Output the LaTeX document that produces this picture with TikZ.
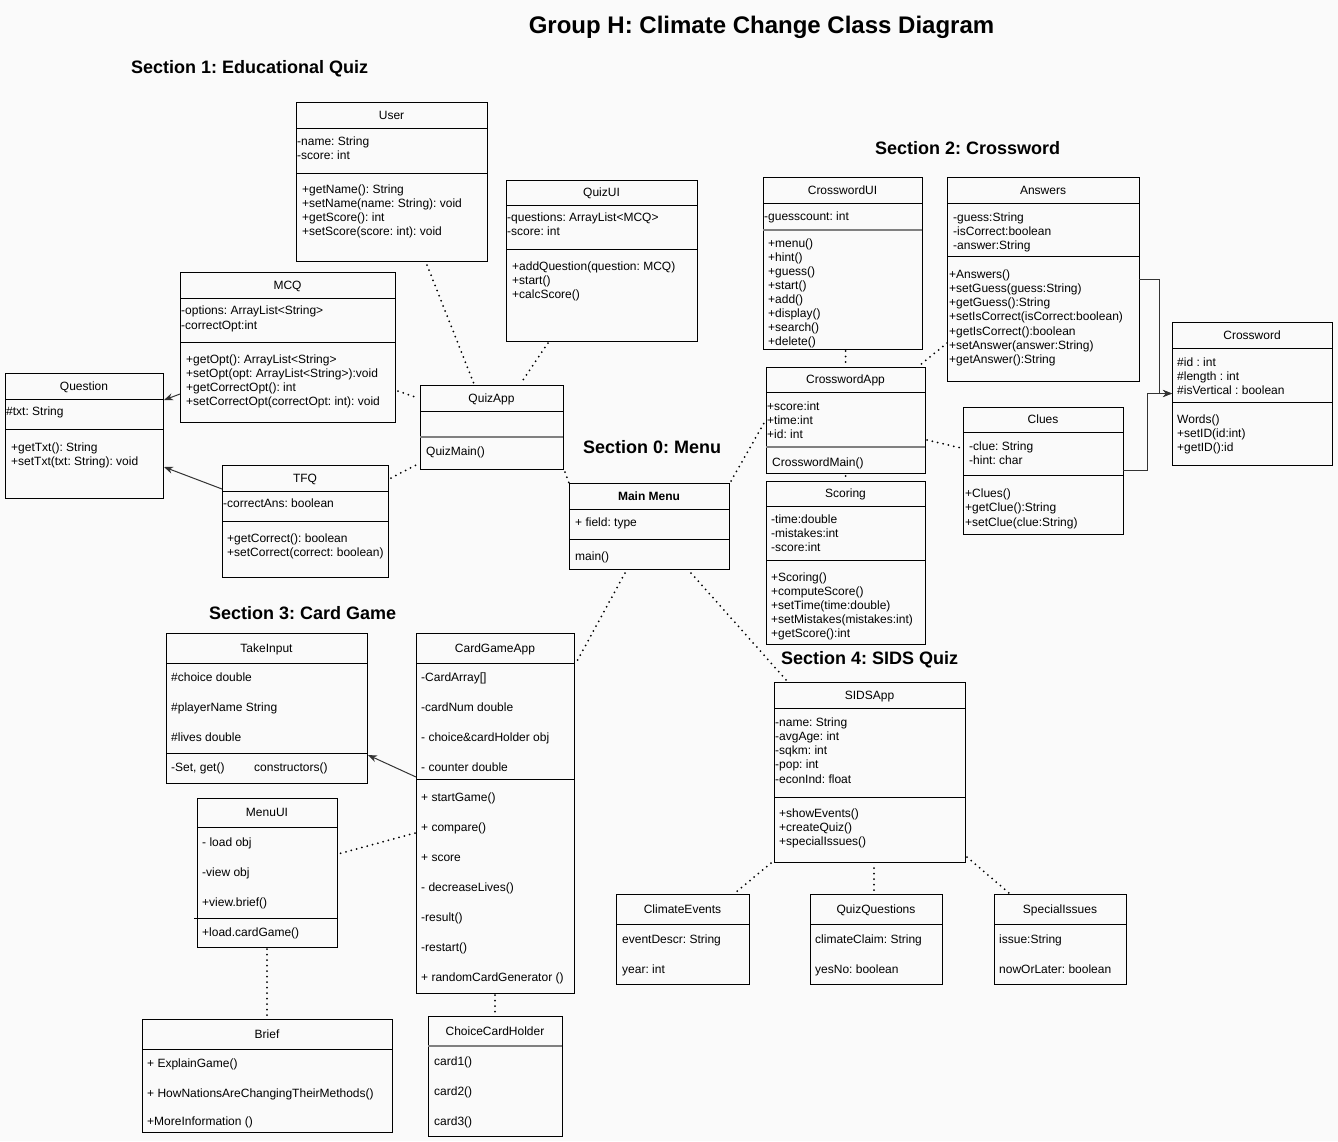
\documentclass[tikz,border=0pt]{standalone}
\usepackage{fontspec}
\setmainfont{Liberation Sans}
\usetikzlibrary{fit,arrows.meta,calc}
\definecolor{bg}{RGB}{250,250,250}
\definecolor{gline}{RGB}{128,128,128}
\newcommand\umlclass[8][divl]{%
  \node[classbox, fit={(#3,#4) (#5,#6)}] (#2) {};
  \draw[#1] (#3,#7) -- (#5,#7);
  \node[ttl] (#2-t) at ({(#3+#5)/2},{(#4+#7)/2+4.3}) {#8};
}
\newcommand\itemlist[4]{%
  \foreach \txt [count=\k from 0] in {#4} {
    \node[itm] at ({#1},{#2+\k*#3+4.3}) {\txt};
  }%
}
\frenchspacing
\begin{document}
\frenchspacing
\begin{tikzpicture}[x=1pt,y=-1pt,
  classbox/.style={draw=black, line width=1pt, fill=bg, inner sep=0pt, outer sep=0pt},
  divl/.style={draw=black, line width=1pt},
  gdiv/.style={draw=gline, line width=2pt},
  ttl/.style={anchor=base, inner sep=0pt, font=\fontsize{12}{14}\selectfont},
  itm/.style={anchor=base west, inner sep=0pt, font=\fontsize{12}{14}\selectfont},
  sec/.style={anchor=base west, inner sep=0pt, font=\fontsize{18}{22}\selectfont\bfseries},
  dotl/.style={draw=black, line width=2pt, line cap=round, dash pattern=on 0pt off 5.5pt},
  arr/.style={draw=black!80, line width=1pt, -{Stealth[length=9pt,width=7pt]}},
]
\useasboundingbox (0,0) rectangle (1338,1141);
\fill[bg] (0,0) rectangle (1338,1141);

% headings
\node[anchor=base, inner sep=0pt, font=\fontsize{24}{28}\selectfont\bfseries] (title) at (761.5,33.6) {Group H: Climate Change Class Diagram};
\node[sec] (sec1) at (131,73.4) {Section 1: Educational Quiz};
\node[sec] (sec2) at (875,154.4) {Section 2: Crossword};
\node[sec] (sec0) at (583,453) {Section 0: Menu};
\node[sec] (sec3) at (209,619.4) {Section 3: Card Game};
\node[sec] (sec4) at (781,664.4) {Section 4: SIDS Quiz};

% ---------- Section 1 ----------
\umlclass{user}{296}{102}{487}{261}{128}{User}
\draw[divl] (296,173) -- (487,173);
\itemlist{297}{141}{14}{-name: String,-score: int}
\itemlist{302}{189}{14}{+getName(): String,+setName(name: String): void,+getScore(): int,+setScore(score: int): void}

\umlclass{quizui}{506}{180}{697}{341}{205}{QuizUI}
\draw[divl] (506,249) -- (697,249);
\itemlist{507}{217}{14.5}{-questions: ArrayList<MCQ>,-score: int}
\itemlist{512}{266}{14}{+addQuestion(question: MCQ),+start(),+calcScore()}

\umlclass{mcq}{180}{272}{395}{422}{298}{MCQ}
\draw[divl] (180,342) -- (395,342);
\itemlist{181}{310.5}{14.5}{-options: ArrayList<String>,-correctOpt:int}
\itemlist{186}{359}{14}{+getOpt(): ArrayList<String>,+setOpt(opt: ArrayList<String>):void,+getCorrectOpt(): int,+setCorrectOpt(correctOpt: int): void}

\umlclass{question}{5}{373}{163}{498}{399}{Question}
\draw[divl] (5,429) -- (163,429);
\itemlist{6}{411}{14}{\#txt: String}
\itemlist{11}{447}{14}{+getTxt(): String,+setTxt(txt: String): void}

\umlclass{quizapp}{420}{385}{563}{469}{411}{QuizApp}
\draw[gdiv] (420,437) -- (563,437);
\itemlist{426}{451}{14}{QuizMain()}

\umlclass{tfq}{222}{465}{388}{577}{491}{TFQ}
\draw[divl] (222,521) -- (388,521);
\itemlist{223}{503.5}{14}{-correctAns: boolean}
\itemlist{227}{538}{14}{+getCorrect(): boolean,+setCorrect(correct: boolean)}

% ---------- Section 0 ----------
\umlclass{mainmenu}{569}{483}{729}{569}{509}{\bfseries Main Menu}
\draw[divl] (569,539) -- (729,539);
\itemlist{575}{522}{14}{+ field: type}
\itemlist{575}{556}{14}{main()}

% ---------- Section 2 ----------
\umlclass{crosswordui}{763}{177}{922}{349}{203}{CrosswordUI}
\draw[gdiv] (763,230) -- (922,230);
\itemlist{764}{216}{14}{-guesscount: int}
\itemlist{768}{243}{14}{+menu(),+hint(),+guess(),+start(),+add(),+display(),+search(),+delete()}

\umlclass{answers}{947}{177}{1139}{381}{203}{Answers}
\draw[divl] (947,256) -- (1139,256);
\itemlist{953}{217}{14}{-guess:String,-isCorrect:boolean,-answer:String}
\itemlist{949}{274}{14.2}{+Answers(),+setGuess(guess:String),+getGuess():String,+setIsCorrect(isCorrect:boolean),+getIsCorrect():boolean,+setAnswer(answer:String),+getAnswer():String}

\umlclass{crossword}{1172}{322}{1332}{465}{348}{Crossword}
\draw[divl] (1172,402) -- (1332,402);
\itemlist{1177}{362}{14}{\#id : int,\#length : int,\#isVertical : boolean}
\itemlist{1177}{419}{14}{Words(),+setID(id:int),+getID():id}

\umlclass{crosswordapp}{766}{367}{925}{473}{392}{CrosswordApp}
\draw[gdiv] (766,447) -- (925,447);
\itemlist{767}{406}{14.3}{+score:int,+time:int,+id: int}
\itemlist{772}{462}{14}{CrosswordMain()}

\umlclass{clues}{963}{407}{1123}{534}{432}{Clues}
\draw[divl] (963,475) -- (1123,475);
\itemlist{969}{446}{14}{-clue: String,-hint: char}
\itemlist{965}{493}{14.5}{+Clues(),+getClue():String,+setClue(clue:String)}

\umlclass{scoring}{766}{481}{925}{644}{506}{Scoring}
\draw[divl] (766,560) -- (925,560);
\itemlist{771}{519.5}{14}{-time:double,-mistakes:int,-score:int}
\itemlist{771}{577}{14}{+Scoring(),+computeScore(),+setTime(time:double),+setMistakes(mistakes:int),+getScore():int}

% ---------- Section 4 ----------
\umlclass{sidsapp}{774}{682}{965}{862}{708}{SIDSApp}
\draw[divl] (774,797) -- (965,797);
\itemlist{775}{722}{14.2}{-name: String,-avgAge: int,-sqkm: int,-pop: int,-econInd: float}
\itemlist{779}{813.5}{14}{+showEvents(),+createQuiz(),+specialIssues()}

\umlclass{climateevents}{616}{894}{749}{984}{924}{ClimateEvents}
\itemlist{622}{939}{30}{eventDescr: String,year: int}
\umlclass{quizquestions}{810}{894}{942}{984}{924}{QuizQuestions}
\itemlist{815}{939}{30}{climateClaim: String,yesNo: boolean}
\umlclass{specialissues}{994}{894}{1126}{984}{924}{SpecialIssues}
\itemlist{999}{939}{30}{issue:String,nowOrLater: boolean}

% ---------- Section 3 ----------
\umlclass{takeinput}{166}{633}{367}{783}{663}{TakeInput}
\draw[divl] (166,753) -- (367,753);
\itemlist{171}{677}{30}{\#choice double,\#playerName String,\#lives double}
\node[itm] (ti-a) at (171,771.3) {-Set, get()};
\node[itm] (ti-b) at (254,771.3) {constructors()};

\umlclass{cardgameapp}{416}{633}{574}{993}{663}{CardGameApp}
\draw[divl] (416,779) -- (574,779);
\itemlist{421}{677}{30}{{-CardArray[]},-cardNum double,- choice\&cardHolder obj,- counter double}
\itemlist{421}{797}{30}{+ startGame(),+ compare(),+ score,- decreaseLives(),-result(),-restart(),+ randomCardGenerator ()}

\umlclass{menuui}{197}{798}{337}{947}{827}{MenuUI}
\draw[divl] (194,918) -- (337,918);
\itemlist{202}{842}{30}{- load obj,-view obj,+view.brief()}
\itemlist{202}{932}{30}{+load.cardGame()}

\umlclass{brief}{142}{1019}{392}{1132}{1049}{Brief}
\itemlist{147}{1063}{30}{+ ExplainGame(),+ HowNationsAreChangingTheirMethods()}
\itemlist{147}{1121}{14}{+MoreInformation ()}

\umlclass[gdiv]{cch}{428}{1016}{562}{1136}{1046}{ChoiceCardHolder}
\itemlist{434}{1061}{30}{card1(),card2(),card3()}

% ---------- dotted connectors ----------
\draw[dotl] ([xshift=35.5pt,yshift=-4pt]user.south) -- ([xshift=-17.5pt,yshift=1pt]quizapp.north);
\draw[dotl] ([xshift=-53.5pt,yshift=-2pt]quizui.south) -- ([xshift=29.5pt,yshift=2pt]quizapp.north);
\draw[dotl] ([xshift=3pt,yshift=-44pt]mcq.east) -- ([xshift=-2pt,yshift=29pt]quizapp.west);
\draw[dotl] ([xshift=3pt,yshift=43pt]tfq.east) -- ([xshift=-2pt,yshift=-37pt]quizapp.west);
\draw[dotl] ([xshift=2pt,yshift=-3pt]quizapp.south east) -- (mainmenu.north west);
\draw[dotl] ([xshift=2pt,yshift=2pt]mainmenu.north east) -- ([xshift=-2pt,yshift=-3pt]crosswordapp.west);
\draw[dotl] ([yshift=-2pt]crosswordui.south -| crosswordapp.north) -- (crosswordapp.north);
\draw[dotl] ([yshift=-64pt]answers.west) -- ([xshift=-6pt,yshift=1pt]crosswordapp.north east);
\draw[dotl] ([xshift=2pt,yshift=-20pt]crosswordapp.east) -- ([xshift=-2pt,yshift=22.5pt]clues.west);
\draw[dotl] ([yshift=-3pt]crosswordapp.south) -- (scoring.north);
\draw[dotl] ([xshift=-24pt,yshift=-4pt]mainmenu.south) -- ([xshift=2pt,yshift=-30pt]cardgameapp.north east);
\draw[dotl] ([xshift=42pt,yshift=-4pt]mainmenu.south) -- ([xshift=13pt,yshift=1pt]sidsapp.north west);
\draw[dotl] ([xshift=-1pt,yshift=-20pt]cardgameapp.west) -- ([xshift=1pt,yshift=18.5pt]menuui.east);
\draw[dotl] ([yshift=-2pt]menuui.south) -- ([yshift=4pt]brief.north);
\draw[dotl] ([yshift=-2pt]cardgameapp.south) -- ([yshift=3pt]cch.north);
\draw[dotl] ([xshift=-3pt,yshift=-1pt]sidsapp.south west) -- ([xshift=-14pt,yshift=1pt]climateevents.north east);
\draw[dotl] ([xshift=4.5pt,yshift=-6pt]sidsapp.south) -- ([xshift=-2pt,yshift=1pt]quizquestions.north);
\draw[dotl] ([xshift=2pt,yshift=5pt]sidsapp.south east) -- ([xshift=15pt,yshift=1pt]specialissues.north west);

% ---------- solid arrows ----------
\draw[arr] ([yshift=-47pt]mcq.west) -- ([xshift=1pt,yshift=35.5pt]question.east);
\draw[arr] ([yshift=32pt]tfq.west) -- ([xshift=1pt,yshift=-31.5pt]question.east);
\draw[arr] ([yshift=36pt]cardgameapp.west) -- ([xshift=1pt,yshift=-47pt]takeinput.east);
\draw[arr] (answers.east) -- ++(20.5,0) |- (crossword.west);
\draw[arr] (clues.east) -- ++(24,0) |- (crossword.west);
\end{tikzpicture}
\end{document}
